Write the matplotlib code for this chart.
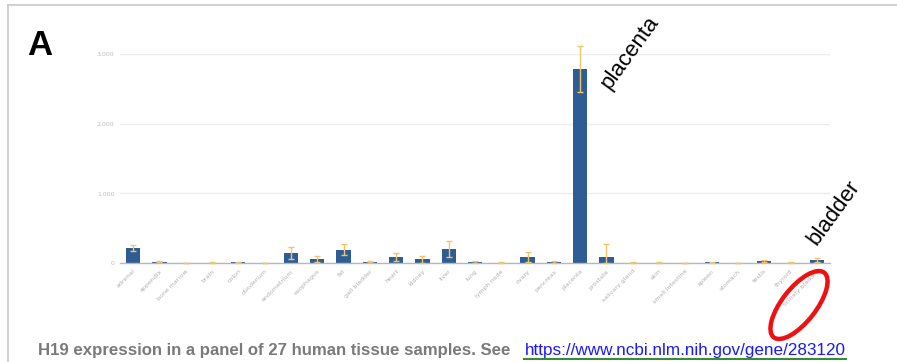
import matplotlib
matplotlib.use("Agg")
import matplotlib.pyplot as plt
from matplotlib.patches import Ellipse
from matplotlib.lines import Line2D

tissues = ["adrenal", "appendix", "bone marrow", "brain", "colon", "duodenum",
           "endometrium", "esophagus", "fat", "gall bladder", "heart", "kidney",
           "liver", "lung", "lymph node", "ovary", "pancreas", "placenta",
           "prostate", "salivary gland", "skin", "small intestine", "spleen",
           "stomach", "testis", "thyroid", "urinary bladder"]
values = [214, 20, 3, 5, 12, 4, 143, 57, 190, 18, 86, 57, 200, 14, 6, 86, 15,
          2780, 86, 4, 6, 4, 12, 4, 25, 5, 43]
errors = [43, 10, 2, 3, 8, 2, 87, 43, 80, 10, 54, 50, 110, 16, 5, 70, 8,
          330, 184, 6, 4, 3, 8, 3, 12, 4, 30]
yticks = [0, 1000, 2000, 3000]
ytick_labels = ["0", "1,000", "2,000", "3,000"]

W, H = 897, 362
fig = plt.figure(figsize=(W / 100, H / 100), dpi=100)
fig.patch.set_facecolor("white")

# main chart axes (pixel layout: x 120..830, y0=263, y3000=54)
ax = fig.add_axes([120 / W, (H - 263) / H, 710 / W, (263 - 54) / H])
x = list(range(len(tissues)))
lower = [min(e, v) for e, v in zip(errors, values)]
ax.bar(x, values, width=0.54, color="#2e5d94", zorder=2)
ax.errorbar(x, values, yerr=[lower, errors], fmt="none", ecolor="#f1c36a",
            elinewidth=1.0, capsize=2.5, capthick=1.0, zorder=3, clip_on=False)
ax.set_xlim(-0.5, len(tissues) - 0.5)
ax.set_ylim(0, 3000)
ax.set_yticks(yticks)
ax.set_yticklabels(ytick_labels, fontsize=4.5, color="#bdbdbd")
ax.set_xticks(x)
ax.set_xticklabels(tissues, rotation=45, ha="right", rotation_mode="anchor",
                   fontsize=4.5, color="#b0b0b0")
ax.tick_params(axis="both", length=0, pad=4)
ax.grid(axis="y", color="#ececec", linewidth=1.0, zorder=0)
ax.set_axisbelow(True)
for s in ["top", "right", "left"]:
    ax.spines[s].set_visible(False)
ax.spines["bottom"].set_color("#b8b8b8")
ax.spines["bottom"].set_linewidth(1.0)
ax.set_facecolor("none")

# overlay axes in pixel coordinates
ov = fig.add_axes([0, 0, 1, 1], zorder=5)
ov.set_xlim(0, W)
ov.set_ylim(H, 0)
ov.axis("off")
ov.patch.set_alpha(0)

ov.add_line(Line2D([8, W], [5, 5], color="#c8c8c8", linewidth=1.2))
ov.add_line(Line2D([8, 8], [5, H], color="#c8c8c8", linewidth=1.2))

ov.text(27, 55, "A", fontsize=25, fontweight="bold", family="Liberation Sans",
        ha="left", va="baseline", color="black")

ov.text(610, 90, "placenta", fontsize=16, family="Liberation Sans", rotation=54,
        rotation_mode="anchor", ha="left", va="baseline", color="black")
ov.text(817, 246, "bladder", fontsize=16, family="Liberation Sans", rotation=54,
        rotation_mode="anchor", ha="left", va="baseline", color="black")

ov.add_patch(Ellipse((799, 305), width=82, height=34, angle=-52,
                     fill=False, edgecolor="#ee1111", linewidth=3.2))

ov.text(38, 355, "H19 expression in a panel of 27 human tissue samples. See",
        fontsize=12.1, fontweight="bold", family="Liberation Sans",
        color="#7a7a7a", ha="left", va="baseline")
ov.text(525, 355, "https://www.ncbi.nlm.nih.gov/gene/283120",
        fontsize=12.3, family="Liberation Sans", color="#1a1aff",
        ha="left", va="baseline")
ov.add_line(Line2D([524, 846], [358.5, 358.5], color="#3b8a3b", linewidth=1.5))

fig.savefig("out.png", dpi=100)
